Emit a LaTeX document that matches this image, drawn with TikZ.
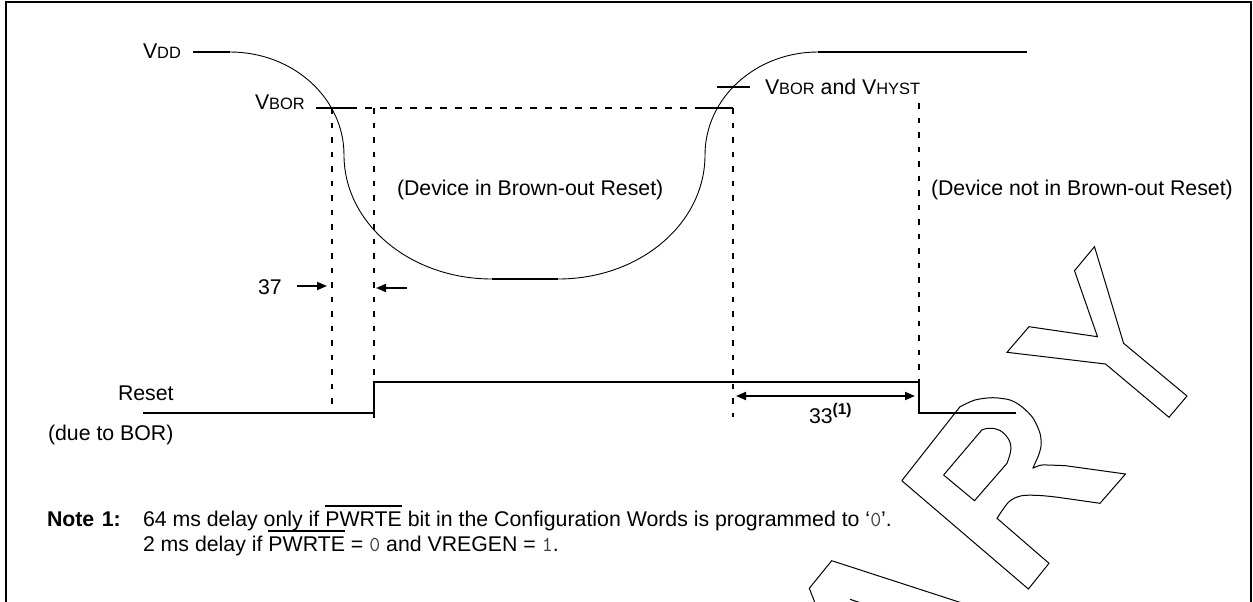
\documentclass[tikz,border=0pt]{standalone}
\usepackage{fontspec}
\setmainfont{Liberation Sans}
\usetikzlibrary{arrows.meta}
\newcommand{\sm}[1]{{\fontsize{16.4}{18}\selectfont #1}}
\newcommand{\cd}[1]{{\ttfamily\color{black!75}#1}}
\newcommand{\ovl}[1]{\setbox0\hbox{#1}\rlap{\raisebox{19.5pt}{\rule{\wd0}{1.3pt}}}\box0\relax}
\begin{document}
\begin{tikzpicture}[x=1pt,y=-1pt,
  every node/.style={inner sep=0pt,outer sep=0pt,font=\fontsize{21.3}{25}\selectfont},
  lbl/.style={anchor=base west},
  sig/.style={line width=1.8pt},
  curve/.style={line width=0.9pt},
  vdash/.style={line width=1.8pt,dash pattern=on 5.5pt off 9pt},
  hdash/.style={line width=1.8pt,dash pattern=on 7pt off 8pt},
  arr/.style={line width=1.8pt,-{Triangle[length=10pt,width=8pt]}},
  darr/.style={line width=1.8pt,{Triangle[length=10pt,width=8pt]}-{Triangle[length=10pt,width=8pt]}},
  wm/.style={line width=1pt,line join=miter}]
\useasboundingbox (0,0) rectangle (1253,602);
% frame
\draw[line width=2.2pt] (6,603) -- (6,2) -- (1251,2) -- (1251,603);

% coordinates
\coordinate (vddL) at (193,52);
\coordinate (vddA) at (230,52);
\coordinate (infL) at (344,155);
\coordinate (botL) at (492,279);
\coordinate (botR) at (558,279);
\coordinate (infR) at (705,155);
\coordinate (topR) at (818,52);
\coordinate (topE) at (1027,52);

% VDD waveform
\draw[sig] (vddL) -- (vddA);
\draw[curve] (vddA) .. controls (293,52) and (344,98) .. (infL)
  .. controls (344,223.5) and (410,279) .. (botL);
\draw[sig] (botL) -- (botR);
\draw[curve] (botR) .. controls (640,279) and (705,223.5) .. (infR)
  .. controls (705,98) and (755.6,52) .. (topR);
\draw[sig] (topR) -- (topE);

% VBOR levels
\coordinate (t1a) at (316,108);
\coordinate (t1b) at (350,108);
\coordinate (t2a) at (697,108);
\coordinate (t2b) at (733,108);
\draw[sig] (t1a) -- (t1b);
\draw[hdash] (t1b) -- (t2a);
\draw[sig] (t2a) -- (t2b);
\coordinate (h1) at (717,87);
\coordinate (h2) at (750,87);
\draw[sig] (h1) -- (h2);

% vertical dashed
\coordinate (d1t) at (332,108); \coordinate (d1b) at (332,413);
\coordinate (d2t) at (374,108); \coordinate (d2b) at (374,382);
\coordinate (d3t) at (733,108); \coordinate (d3b) at (733,417);
\coordinate (d4t) at (919,103); \coordinate (d4b) at (919,382);
\draw[vdash] (d1t) -- (d1b);
\draw[vdash] (d2t) -- (d2b);
\draw[vdash] (d3t) -- (d3b);
\draw[vdash] (d4t) -- (d4b);

% Reset waveform
\coordinate (r0) at (143,413);
\coordinate (r1) at (374,413);
\coordinate (r1x) at (374,418);
\coordinate (r4) at (919,413);
\coordinate (r5) at (1016,413);
\draw[sig] (r0) -- (r1);
\draw[sig,line join=miter] (r1x) -- (d2b) -- (d4b) -- (r4) -- (r5);

% 37 arrows
\coordinate (a1s) at (297,286); \coordinate (a1e) at (327,286);
\coordinate (a2s) at (407,288); \coordinate (a2e) at (376,288);
\draw[arr] (a1s) -- (a1e);
\draw[arr] (a2s) -- (a2e);
% 33 arrow
\coordinate (b1) at (736,396); \coordinate (b2) at (915,396);
\draw[darr] (b1) -- (b2);

% labels
\node[lbl] (lvdd) at (143,59) {V\sm{DD}};
\node[lbl] (lvbor) at (255,110) {V\sm{BOR}};
\node[lbl] (lhyst) at (765,94) {V\sm{BOR} and V\sm{HYST}};
\node[lbl] (lin) at (397,195) {(Device in Brown-out Reset)};
\node[lbl] (lnot) at (931,195) {(Device not in Brown-out Reset)};
\node[lbl] (l37) at (258,294) {37};
\node[lbl] (lreset) at (118,400) {Reset};
\node[lbl] (ldue) at (48,440) {(due to BOR)};
\node[lbl] (l33) at (809,423) {33\raisebox{8.5pt}{\fontsize{15.5}{15}\selectfont\bfseries (1)}};
\node[lbl] (lnote) at (47,526) {\bfseries Note\hspace{0.35em}1:};
\node[lbl] (ln1) at (143,526) {64 ms delay only if \ovl{PWRTE} bit in the Configuration Words is programmed to `\cd{0}'.};
\node[lbl] (ln2) at (143,551) {2 ms delay if \ovl{PWRTE} = \cd{0} and VREGEN = \cd{1}.};

% watermark letters (partial)
\draw[wm] (1094.5,246.7) -- (1123.6,343.3) -- (1187,396) -- (1169,417.3) -- (1105.5,364)
  -- (1007,352.3) -- (1029,326.7) -- (1097.5,336.7) -- (1074.5,270.7) -- cycle;
\draw[wm] (901.8,480.7) -- (960,406.7)
  plot[smooth] coordinates {(960,406.7) (975,400) (992.7,397.7) (1010,400) (1021.8,406.7) (1033,418) (1040,433.3) (1041,446) (1038,456.7) (1032.7,468.3)}
  plot[smooth] coordinates {(1032.7,468.3) (1040,465.3) (1047.3,465) (1065.5,465.7)}
  -- (1125.5,474) -- (1100,503.3) -- (1058,497.3)
  plot[smooth] coordinates {(1058,497.3) (1040,495.5) (1021.8,495.7) (1009,501.7) (997,518.3)}
  -- (1049,563.3) -- (1028.4,589) -- (901.8,480.7);
\draw[wm] (943.6,475) -- (981.8,430)
  plot[smooth] coordinates {(981.8,430) (986,428.6) (992.7,428.3) (1000,430.5) (1005.5,435) (1009.5,441) (1011,448.3) (1009.5,456) (1007,463.3)}
  -- (974.5,500.7) -- (943.6,475);
\draw[wm] (815,603) -- (809.3,588.3) -- (831.7,560.7) -- (962,603);
\draw[wm] (850,599.3) -- (861,603);
\end{tikzpicture}
\end{document}
